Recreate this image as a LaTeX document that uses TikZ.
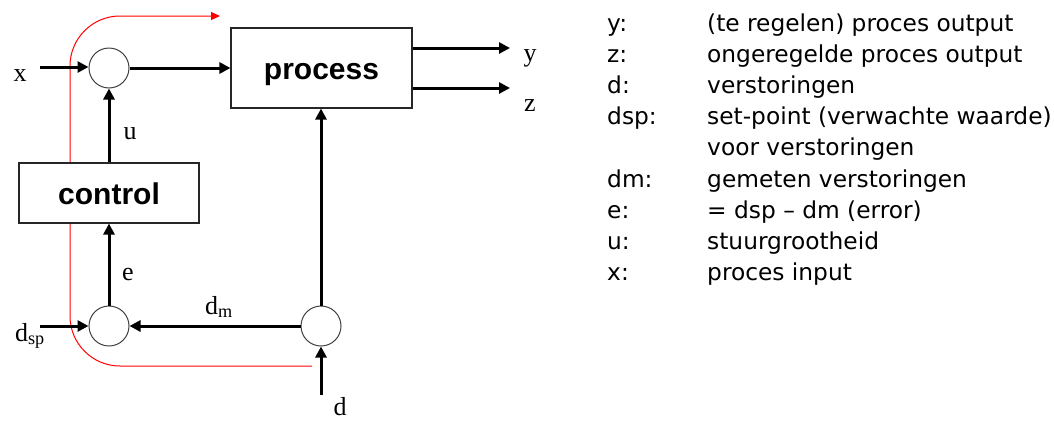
\documentclass[tikz,border=0pt]{standalone}
\usepackage{fontspec}
\setmainfont{Liberation Serif}
\newfontfamily\arialfont{Liberation Sans}
\newfontfamily\legfont{DejaVu Sans}
\usetikzlibrary{arrows.meta}

\begin{document}
\begin{tikzpicture}[x=1pt,y=-1pt,
  sig/.style={line width=3pt, -{Triangle[length=11pt,width=11pt]}},
  sumc/.style={circle, draw=black!75, line width=1pt, minimum size=40pt, inner sep=0pt, fill=white},
  blk/.style={draw=black!85, line width=1.1pt, fill=white, font=\arialfont\bfseries\fontsize{30}{36}\selectfont, inner sep=0pt, text height=22pt, text depth=0pt},
  lbl/.style={font=\fontsize{26}{30}\selectfont, inner sep=0pt},
  leg/.style={font=\legfont\fontsize{23.3}{28}\selectfont, inner sep=0pt, anchor=base west},
  fb/.style={red, line width=1pt, rounded corners=50pt, -{Triangle[length=9pt,width=8pt]}}
]
\useasboundingbox (0,0) rectangle (1054,421);

% feedback (red) path, drawn first so the control box covers it
\coordinate (rs) at (312,366);
\coordinate (rc1) at (70,366);
\coordinate (rc2) at (70,16);
\coordinate (re) at (220,16);
\draw[fb] (rs) -- (rc1) -- (rc2) -- (re);

% blocks
\node[blk, minimum width=181pt, minimum height=80pt] (proc) at (321.5,68) {process};
\node[blk, minimum width=180pt, minimum height=60pt] (ctrl) at (109,193) {control};

% summing junctions
\node[sumc] (c1) at (109,68) {};
\node[sumc] (c2) at (109,326) {};
\node[sumc] (c3) at (321,326) {};

% free ends
\coordinate (xin) at (40,67);
\coordinate (dspin) at (40,326);
\coordinate (din) at (321,395);
\coordinate (yout) at (510,48);
\coordinate (zout) at (510,88);

% signals
\draw[sig] (xin) -- (c1.west |- xin);
\draw[sig] (c1.east) -- (proc.west |- c1.east);
\draw[sig] (ctrl.north -| c1) -- (c1.south);
\draw[sig] (c2.north) -- (ctrl.south -| c2);
\draw[sig] (dspin) -- (c2.west);
\draw[sig] (c3.west) -- (c2.east);
\draw[sig] (c3.north) -- (proc.south -| c3);
\draw[sig] (din) -- (c3.south);
\draw[sig] (proc.east |- yout) -- (yout);
\draw[sig] (proc.east |- zout) -- (zout);

% diagram labels
\node[lbl] (lx) at (20,76) {x};
\node[lbl] (lu) at (130,134) {u};
\node[lbl] (le) at (128,274) {e};
\node[lbl] (ldm) at (219,307) {d\textsubscript{m}};
\node[lbl] (ldsp) at (30,336) {d\textsubscript{sp}};
\node[lbl] (ld) at (340,407) {d};
\node[lbl] (ly) at (530,58) {y};
\node[lbl] (lz) at (530,106) {z};

% legend
\foreach \k/\a/\b in {0/y:/(te regelen) proces output,
                      1/z:/ongeregelde proces output,
                      2/d:/verstoringen,
                      3/dsp:/set-point (verwachte waarde),
                      4//voor verstoringen,
                      5/dm:/gemeten verstoringen,
                      6/e:/= dsp – dm (error),
                      7/u:/stuurgrootheid,
                      8/x:/proces input}{
  \node[leg] (la\k) at (607,{31+31.2*\k}) {\a};
  \node[leg] (lb\k) at (707,{31+31.2*\k}) {\b};
}
\end{tikzpicture}
\end{document}
